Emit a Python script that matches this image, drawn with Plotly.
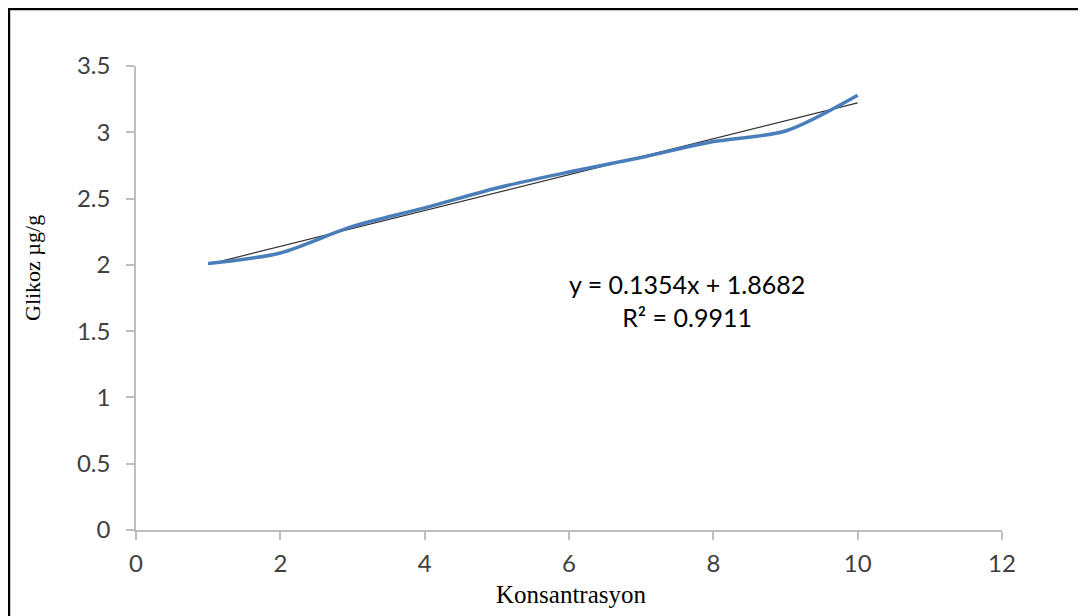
import numpy as np
import plotly.graph_objects as go

# Data
konsantrasyon = [1, 2, 3, 4, 5, 6, 7, 8, 9, 10]
glikoz = [2.01, 2.09, 2.29, 2.43, 2.58, 2.70, 2.81, 2.93, 3.01, 3.28]
trend_slope = 0.1354
trend_intercept = 1.8682
r_squared = 0.9911
x_ticks = [0, 2, 4, 6, 8, 10, 12]
y_ticks = [0, 0.5, 1, 1.5, 2, 2.5, 3, 3.5]

trend_x = [min(konsantrasyon), max(konsantrasyon)]
trend_y = [trend_slope * v + trend_intercept for v in trend_x]

fig = go.Figure()
fig.add_trace(go.Scatter(
    x=trend_x, y=trend_y, mode="lines",
    line=dict(color="#333333", width=1.2), hoverinfo="skip", showlegend=False))
fig.add_trace(go.Scatter(
    x=konsantrasyon, y=glikoz, mode="lines",
    line=dict(color="#4a7ebb", width=3.5, shape="spline", smoothing=0.8),
    showlegend=False))

tickfont = dict(family="Lato, 'Open Sans', sans-serif", size=24, color="#404040")
axis_common = dict(showgrid=False, zeroline=False, showline=True,
                   linecolor="#bfbfbf", linewidth=1.5, ticks="outside",
                   tickcolor="#bfbfbf", ticklen=8, tickwidth=1.5, tickfont=tickfont)

fig.update_xaxes(range=[0, 12], tickvals=x_ticks, ticktext=[str(v) for v in x_ticks],
                 ticklabelstandoff=3, **axis_common)
fig.update_yaxes(range=[0, 3.5], tickvals=y_ticks,
                 ticktext=[("%g" % v) for v in y_ticks],
                 ticklabelstandoff=11, **axis_common)

# Axis titles
fig.add_annotation(x=0.5023, y=-0.140, xref="paper", yref="paper", showarrow=False,
                   text="Konsantrasyon", xanchor="center", yanchor="middle",
                   font=dict(family="'Liberation Serif', serif", size=25, color="#000000"))
fig.add_annotation(x=-0.1189, y=0.5647, xref="paper", yref="paper", showarrow=False,
                   text="Glikoz µg/g", textangle=-90, xanchor="center", yanchor="middle",
                   font=dict(family="'Liberation Serif', serif", size=22, color="#000000"))

fig.add_annotation(
    x=7.63, y=1.73, xref="x", yref="y", showarrow=False,
    text=f"y = {trend_slope}x + {trend_intercept}<br>R² = {r_squared}",
    font=dict(family="Lato, 'Open Sans', sans-serif", size=25, color="#000000"),
    align="center")

# Outer frame
fig.add_shape(type="rect", xref="paper", yref="paper",
              x0=-0.1467, x1=1.0965, y0=-0.25, y1=1.1228,
              line=dict(color="#000000", width=2.5), layer="above")

fig.update_layout(
    width=1086, height=616,
    margin=dict(l=128, r=92, t=58, b=94),
    plot_bgcolor="white", paper_bgcolor="white",
)

fig.write_html("out.html")
